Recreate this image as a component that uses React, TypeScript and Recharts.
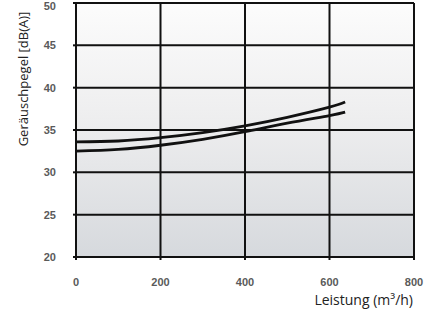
import React from "react";
import { LineChart, Line, XAxis, YAxis, CartesianGrid } from "recharts";

const xTicks = [0, 200, 400, 600, 800];
const yTicks = [20, 25, 30, 35, 40, 45, 50];

const flow = [0, 100, 200, 300, 400, 500, 600, 637];
const upperCurve = [33.6, 33.7, 34.1, 34.7, 35.5, 36.5, 37.7, 38.3];
const lowerCurve = [32.5, 32.7, 33.2, 33.9, 34.8, 35.8, 36.7, 37.1];

const data = flow.map((x, i) => ({ x, upper: upperCurve[i], lower: lowerCurve[i] }));

const tickStyle = { fontSize: 11, fill: "#5a5a5a", fontFamily: "Liberation Sans, Arial, sans-serif", fontWeight: 600 };

export default function App() {
  return (
    <div style={{ position: "absolute", left: 0, top: 0, background: "#fff" }}>
      <LineChart width={438} height={311} data={data} margin={{ top: 3, right: 24, bottom: 24, left: 6 }}>
        <defs>
          <linearGradient id="bg" x1="0" y1="0" x2="0" y2="1">
            <stop offset="0%" stopColor="#fcfcfc" />
            <stop offset="45%" stopColor="#eeeeef" />
            <stop offset="100%" stopColor="#d6d9dd" />
          </linearGradient>
        </defs>
        <CartesianGrid stroke="#111" strokeWidth={2} fill="url(#bg)" fillOpacity={1} />
        <XAxis
          dataKey="x"
          type="number"
          domain={[0, 800]}
          ticks={xTicks}
          height={30}
          axisLine={{ stroke: "#111", strokeWidth: 2 }}
          tickLine={{ stroke: "#111", strokeWidth: 2 }}
          tickSize={3}
          tickMargin={18}
          tick={tickStyle}
          label={{
            content: () => (
              <text x={413} y={305} textAnchor="end" fontSize={14} fill="#222" fontFamily="Open Sans, Liberation Sans, sans-serif">
                Leistung (m³/h)
              </text>
            ),
          }}
        />
        <YAxis
          type="number"
          domain={[20, 50]}
          ticks={yTicks}
          width={70}
          axisLine={{ stroke: "#111", strokeWidth: 2 }}
          tickLine={{ stroke: "#111", strokeWidth: 2 }}
          tickSize={3}
          tickMargin={17}
          tick={tickStyle}
          label={{
            content: () => (
              <text
                x={0}
                y={0}
                transform="translate(23 79) rotate(-90)"
                textAnchor="middle"
                dominantBaseline="central"
                fontSize={13}
                fill="#222"
                fontFamily="Open Sans, Liberation Sans, sans-serif"
              >
                Geräuschpegel [dB(A)]
              </text>
            ),
          }}
        />
        <Line dataKey="upper" type="natural" stroke="#111" strokeWidth={2.8} dot={false} isAnimationActive={false} />
        <Line dataKey="lower" type="natural" stroke="#111" strokeWidth={2.8} dot={false} isAnimationActive={false} />
      </LineChart>
    </div>
  );
}
